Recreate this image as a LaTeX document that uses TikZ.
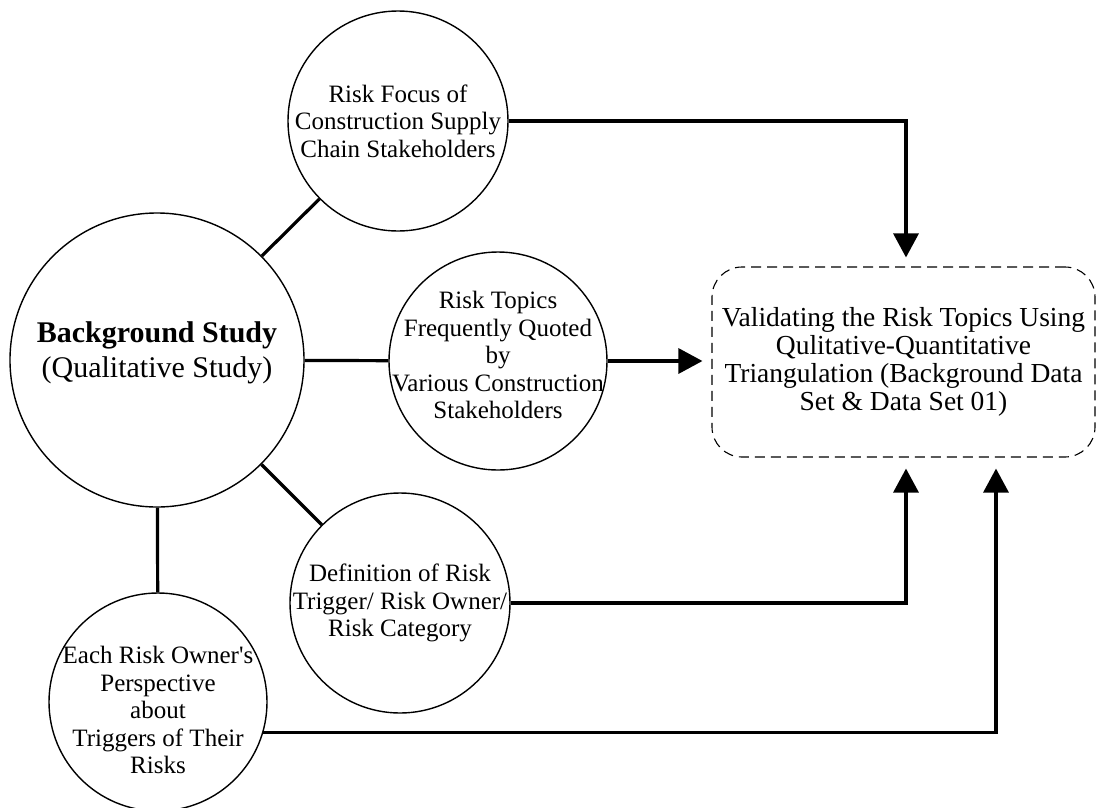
\documentclass[tikz,border=0pt]{standalone}
\usepackage{fontspec}
\setmainfont{Liberation Serif}[Ligatures=TeXOff]
\usetikzlibrary{arrows.meta,calc}
\begin{document}
\begin{tikzpicture}[x=1pt,y=-1pt,
  bubble/.style={circle,draw,line width=1.4pt,inner sep=0pt},
  bubbletext/.style={align=center,inner sep=0pt,font=\fontsize{25}{27.5}\selectfont},
  link/.style={line width=3.2pt},
  arr/.style={line width=3.2pt,-{Triangle[length=24pt,width=25pt]}},
  goal/.style={draw,dash pattern=on 10pt off 6pt,line width=1.1pt,rounded corners=30pt,
    minimum width=383pt,minimum height=190pt,align=center,inner sep=0pt,
    font=\fontsize{27.5}{28}\selectfont}]
\useasboundingbox (0,0) rectangle (1096,807);

% circles
\node[bubble,minimum size=294pt] (bg) at (157,360) {};
\node[bubble,minimum size=220pt] (focus) at (398,121) {};
\node[bubble,minimum size=218pt] (topics) at (498,361) {};
\node[bubble,minimum size=220pt] (defn) at (400,603) {};
\node[bubble,minimum size=218pt] (owner) at (158,702) {};

% circle texts
\node[bubbletext,font=\fontsize{30}{35}\selectfont] (bg-txt) at (157,353)
  {\textbf{Background Study}\\(Qualitative Study)};
\node[bubbletext] (focus-txt) at (focus) {Risk Focus of\\Construction Supply\\Chain Stakeholders};
\node[bubbletext] (topics-txt) at (498,355) {Risk Topics\\Frequently Quoted\\by\\Various Construction\\Stakeholders};
\node[bubbletext] (defn-txt) at (defn) {Definition of Risk\\Trigger/ Risk Owner/\\Risk Category};
\node[bubbletext] (owner-txt) at (158,710) {Each Risk Owner's\\Perspective\\about\\Triggers of Their\\Risks};

% target box
\node[goal] (valid) at (903.5,362) {Validating the Risk Topics Using\\Qulitative-Quantitative\\Triangulation (Background Data\\Set \& Data Set 01)};

% links from the background study
\draw[link] (bg) -- (focus);
\draw[link] (bg) -- (topics);
\draw[link] (bg) -- (defn);
\draw[link] (bg) -- (owner);

% arrows into the validation box
\draw[arr,shorten >=9pt] (focus.east) -| ([xshift=2.5pt]valid.north);
\draw[arr,shorten >=9pt] (topics.east) -- (topics.east -| valid.west);
\draw[arr,shorten >=11pt] (defn.east) -| ([xshift=2.5pt]valid.south);
\draw[arr,shorten >=11pt] (owner.-16.5) -| ([xshift=92.5pt]valid.south);
\end{tikzpicture}
\end{document}
